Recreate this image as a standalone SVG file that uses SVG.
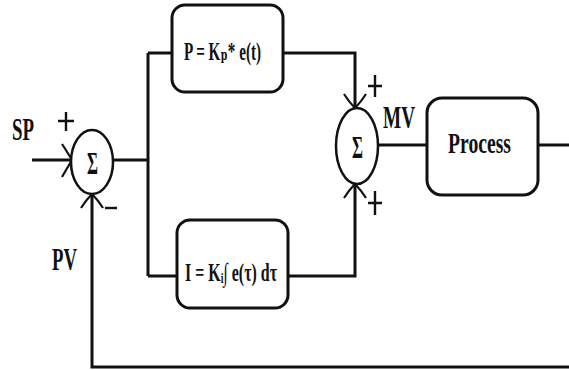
<svg xmlns="http://www.w3.org/2000/svg" width="569" height="370" viewBox="0 0 569 370">
<style>
.ln{fill:none;stroke:#111;stroke-width:3}
.ch{fill:none;stroke:#111;stroke-width:2.2}
.pm{fill:none;stroke:#111;stroke-width:2.4}
.box{fill:#fff;stroke:#111;stroke-width:3}
.sum{fill:#fff;stroke:#111;stroke-width:2.5}
.t{font-family:"Liberation Serif","DejaVu Serif",serif;font-weight:bold;fill:#111}
</style>
<rect width="569" height="370" fill="#fff"/>
<g id="connectors">
<path class="ln" d="M32 160 H71"/>
<path class="ln" d="M114 160 H148 M148 53 V276 M148 53 H172 M148 276 H177"/>
<path class="ln" d="M283 53 H355 V108"/>
<path class="ln" d="M288 276 H355 V184"/>
<path class="ln" d="M378 145 H427"/>
<path class="ln" d="M538 145 H569"/>
<path class="ln" d="M569 367 H92 V194"/>
<path class="ch" d="M62 144 Q66 150 72 160 Q66 170 62 177"/>
<path class="ch" d="M81 208 Q86 200 92 194 Q98 200 103 208"/>
<path class="ch" d="M344 94 Q349 102 355 108 Q361 102 366 94"/>
<path class="ch" d="M344 198 Q349 190 355 184 Q361 190 366 198"/>
</g>
<g id="sum1">
<ellipse class="sum" cx="92" cy="162" rx="21" ry="32"/>
<text class="t" x="87" y="174" font-size="32" textLength="11" lengthAdjust="spacingAndGlyphs">Σ</text>
</g>
<g id="sum2">
<ellipse class="sum" cx="357" cy="146" rx="21" ry="38"/>
<text class="t" x="352" y="158" font-size="32" textLength="11" lengthAdjust="spacingAndGlyphs">Σ</text>
</g>
<g id="pblock">
<rect class="box" x="172" y="5" width="111" height="87" rx="13"/>
<text class="t" x="184" y="60" font-size="26" textLength="77" lengthAdjust="spacingAndGlyphs">P = Kₚ* e(t)</text>
</g>
<g id="iblock">
<rect class="box" x="177" y="220" width="111" height="88" rx="13"/>
<text class="t" x="185" y="281" font-size="26" textLength="92" lengthAdjust="spacingAndGlyphs">I = Kᵢ∫ e(τ) dτ</text>
</g>
<g id="process">
<rect class="box" x="427" y="98" width="111" height="97" rx="15"/>
<text class="t" x="448" y="153" font-size="30" textLength="63" lengthAdjust="spacingAndGlyphs">Process</text>
</g>
<g id="labels">
<text class="t" x="12" y="140" font-size="31" textLength="22" lengthAdjust="spacingAndGlyphs">SP</text>
<text class="t" x="52" y="270" font-size="32" textLength="25" lengthAdjust="spacingAndGlyphs">PV</text>
<text class="t" x="383" y="128" font-size="32" textLength="32" lengthAdjust="spacingAndGlyphs">MV</text>
<path class="pm" d="M66 112 V131 M58 121 H74"/>
<path class="pm" d="M105 208 H117"/>
<path class="pm" d="M375 75 V97 M368 86 H382"/>
<path class="pm" d="M375 191 V215 M368 203 H382"/>
</g>
</svg>
